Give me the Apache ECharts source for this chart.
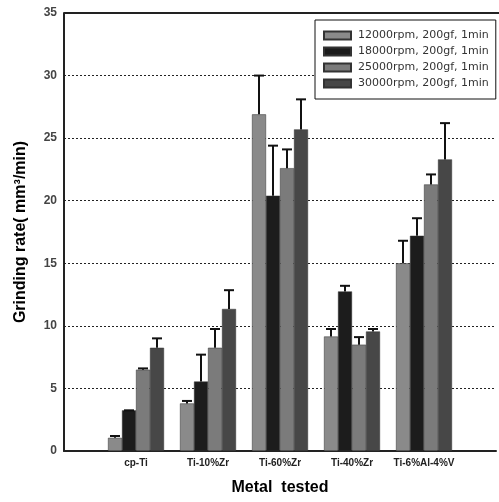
<!DOCTYPE html>
<html>
<head>
<meta charset="utf-8">
<script src="https://cdn.jsdelivr.net/npm/echarts@6/dist/echarts.min.js"></script>
<style>html,body{margin:0;padding:0;background:#fff}#c{width:499px;height:502px}</style>
</head>
<body>
<div id="c"></div>
<script>
// padded categories: blank slots at both ends
var categories = ['', 'cp-Ti', 'Ti-10%Zr', 'Ti-60%Zr', 'Ti-40%Zr', 'Ti-6%Al-4%V', ''];
var seriesNames = ['12000rpm, 200gf, 1min', '18000rpm, 200gf, 1min', '25000rpm, 200gf, 1min', '30000rpm, 200gf, 1min'];
var rate12000 = [null, 1.05, 3.8, 26.9, 9.15, 15.0, null];
var rate18000 = [null, 3.25, 5.55, 20.4, 12.75, 17.2, null];
var rate25000 = [null, 6.5, 8.25, 22.6, 8.5, 21.3, null];
var rate30000 = [null, 8.25, 11.35, 25.7, 9.55, 23.3, null];
var err12000 = [null, 0.15, 0.2, 3.1, 0.6, 1.8, null];
var err18000 = [null, 0, 2.15, 4.0, 0.45, 1.4, null];
var err25000 = [null, 0.1, 1.5, 1.5, 0.6, 0.8, null];
var err30000 = [null, 0.75, 1.5, 2.4, 0.2, 2.9, null];
var yTicks = [0, 5, 10, 15, 20, 25, 30, 35];

var values = [rate12000, rate18000, rate25000, rate30000];
var errs = [err12000, err18000, err25000, err30000];
var colors = ['#8a8a8a', '#1c1c1c', '#7b7b7b', '#474747'];
var BW = 14;
var FONT = 'Liberation Sans, Arial, sans-serif';

var chart = echarts.init(document.getElementById('c'), null, {renderer: 'canvas'});
var series = [];
values.forEach(function (v, i) {
  series.push({
    name: seriesNames[i], type: 'bar', data: v, barWidth: BW, barGap: '0%',
    itemStyle: {color: colors[i], borderColor: '#333', borderWidth: 0.5},
    z: 2
  });
});
values.forEach(function (v, si) {
  var data = [];
  v.forEach(function (val, ci) {
    if (val != null) data.push([ci, val, val + errs[si][ci]]);
  });
  series.push({
    type: 'custom', silent: true, z: 5,
    renderItem: function (params, api) {
      var ci = api.value(0);
      var top = api.coord([ci, api.value(2)]);
      var bot = api.coord([ci, api.value(1)]);
      var x = top[0] + (si - 1.5) * BW;
      if (Math.abs(bot[1] - top[1]) < 0.5) {
        return {type: 'line', shape: {x1: x - 5, y1: top[1], x2: x + 5, y2: top[1]}, style: {stroke: '#111', lineWidth: 2}};
      }
      return {type: 'group', children: [
        {type: 'line', shape: {x1: x, y1: top[1], x2: x, y2: bot[1]}, style: {stroke: '#111', lineWidth: 2}},
        {type: 'line', shape: {x1: x - 5, y1: top[1], x2: x + 5, y2: top[1]}, style: {stroke: '#111', lineWidth: 2}}
      ]};
    },
    encode: {x: 0, y: [1, 2]},
    data: data
  });
});

chart.setOption({
  animation: false,
  textStyle: {fontFamily: FONT},
  grid: {left: 64, top: 13, right: -6, bottom: 51, containLabel: false},
  legend: {
    data: seriesNames, orient: 'vertical', left: 315, top: 20,
    itemWidth: 27, itemHeight: 8, itemGap: 5,
    backgroundColor: '#fff', borderColor: '#111', borderWidth: 1,
    padding: [10, 7, 10, 8],
    textStyle: {fontSize: 11, color: '#333', fontFamily: 'DejaVu Sans, sans-serif', padding: [0, 0, 0, 2]},
    icon: 'rect'
  },
  xAxis: {
    type: 'category', data: categories, boundaryGap: false,
    name: 'Metal  tested', nameLocation: 'middle', nameGap: 29,
    nameTextStyle: {fontSize: 16, fontWeight: 'bold', color: '#000'},
    axisLine: {lineStyle: {color: '#222', width: 2}},
    axisTick: {show: false},
    axisLabel: {fontSize: 10, color: '#222', fontWeight: 'bold', margin: 7, interval: 0},
    splitLine: {show: false}
  },
  yAxis: {
    type: 'value', min: 0, max: 35, interval: 5,
    name: 'Grinding rate( mm\u00B3/min)', nameLocation: 'middle', nameGap: 35,
    nameTextStyle: {fontSize: 16, fontWeight: 'bold', color: '#000'},
    axisLine: {show: true, lineStyle: {color: '#222', width: 2}},
    axisTick: {show: false},
    axisLabel: {fontSize: 12, color: '#444', fontWeight: 'bold', margin: 7,
      formatter: function (v) { return yTicks.indexOf(v) >= 0 ? String(v) : ''; }},
    splitLine: {show: true, lineStyle: {color: '#222', type: [2, 2], width: 1}}
  },
  graphic: [],
  series: series
});
// solid top frame line at max of y axis
var p0 = chart.convertToPixel({gridIndex: 0}, [0, 35]);
chart.setOption({graphic: [{type: 'line', shape: {x1: p0[0], y1: p0[1], x2: 499, y2: p0[1]}, style: {stroke: '#222', lineWidth: 2}, z: 10}]});
</script>
</body>
</html>
